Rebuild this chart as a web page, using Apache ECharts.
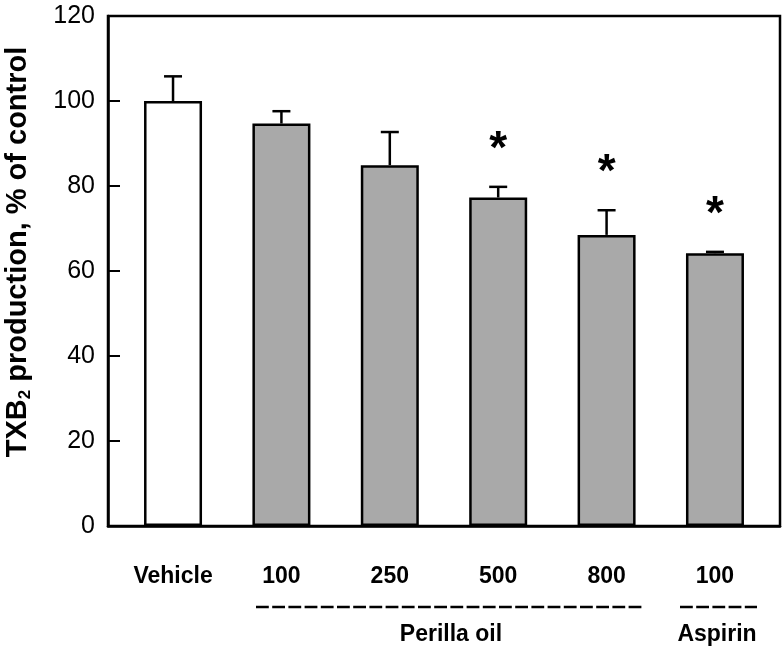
<!DOCTYPE html>
<html>
<head>
<meta charset="utf-8">
<script src="https://cdn.jsdelivr.net/npm/echarts@6/dist/echarts.min.js"></script>
<style>
html,body{margin:0;padding:0;background:#fff;}
#chart{width:784px;height:652px;}
</style>
</head>
<body>
<div id="chart"></div>
<script>
// ---- data ----
var categories = ['Vehicle', '100', '250', '500', '800', '100'];
var values = [100, 94.7, 84.9, 77.3, 68.5, 64.2];
var errors = [5.8, 2.9, 7.8, 2.5, 5.8, 0.3];
var significant = [false, false, false, true, true, true];
var groupNames = ['Perilla oil', 'Aspirin'];

var FONT = 'Liberation Sans, Arial, sans-serif';
var GRAY = '#a9a9a9';

var barData = values.map(function (v, i) {
  return { value: [i, v], itemStyle: { color: i === 0 ? '#ffffff' : GRAY } };
});
var errData = values.map(function (v, i) { return [i, v, errors[i]]; });
var starData = [];
values.forEach(function (v, i) { if (significant[i]) starData.push([i, v + errors[i]]); });

var chart = echarts.init(document.getElementById('chart'), null, { renderer: 'canvas' });
var option = {
  animation: false,
  backgroundColor: '#ffffff',
  grid: {
    left: 108, right: 4, top: 16, bottom: 126,
    outerBoundsMode: 'none', containLabel: false,
    show: true, borderColor: '#000', borderWidth: 2.5, backgroundColor: 'transparent'
  },
  xAxis: {
    type: 'value',
    min: -0.6, max: 5.6,
    splitLine: { show: false },
    axisLine: { show: true, onZero: false, lineStyle: { color: '#000', width: 2.5 } },
    axisTick: { show: false },
    axisLabel: {
      customValues: [0, 1, 2, 3, 4, 5],
      formatter: function (v) { return categories[Math.round(v)]; },
      fontFamily: FONT, fontSize: 23, fontWeight: 'bold', color: '#000', margin: 39
    }
  },
  yAxis: {
    type: 'value',
    min: 0, max: 120, interval: 20,
    splitLine: { show: false },
    axisLine: { show: true, onZero: false, lineStyle: { color: '#000', width: 2.5 } },
    axisTick: { show: true, inside: true, length: 12, lineStyle: { color: '#000', width: 2 } },
    axisLabel: { fontFamily: FONT, fontSize: 25, color: '#000', margin: 13 },
    name: '{b|TXB}{s|2}{b| production, % of control}',
    nameLocation: 'middle',
    nameRotate: 90,
    nameGap: 74,
    nameTextStyle: {
      padding: [0, 0, 0, 38],
      rich: {
        b: { fontFamily: FONT, fontSize: 29, fontWeight: 'bold', color: '#000', lineHeight: 33 },
        s: { fontFamily: FONT, fontSize: 17, fontWeight: 'bold', color: '#000', lineHeight: 33, verticalAlign: 'bottom', padding: [9, 0, 0, 0] }
      }
    }
  },
  series: [
    {
      type: 'bar',
      data: barData,
      barWidth: 58,
      itemStyle: { borderColor: '#000', borderWidth: 2.5 },
      z: 2
    },
    {
      type: 'custom',
      data: errData,
      z: 3,
      renderItem: function (params, api) {
        var x = api.value(0), v = api.value(1), e = api.value(2);
        var p0 = api.coord([x, v]);
        var p1 = api.coord([x, v + e]);
        var style = { stroke: '#000', lineWidth: 2.5 };
        return {
          type: 'group',
          children: [
            { type: 'line', shape: { x1: p0[0], y1: p0[1], x2: p1[0], y2: p1[1] }, style: style },
            { type: 'line', shape: { x1: p1[0] - 9, y1: p1[1], x2: p1[0] + 9, y2: p1[1] }, style: style }
          ]
        };
      }
    },
    {
      type: 'custom',
      data: starData,
      z: 3,
      renderItem: function (params, api) {
        var p = api.coord([api.value(0), api.value(1)]);
        return {
          type: 'text',
          x: p[0], y: p[1] - 37,
          style: {
            text: '*', fill: '#000',
            font: 'bold 46px ' + FONT,
            align: 'center', verticalAlign: 'middle'
          }
        };
      }
    }
  ],
  graphic: [
    { type: 'line', shape: { x1: 256, y1: 607, x2: 643, y2: 607 },
      style: { stroke: '#000', lineWidth: 2.7, lineDash: [12.8, 3.4] } },
    { type: 'line', shape: { x1: 680, y1: 607, x2: 757, y2: 607 },
      style: { stroke: '#000', lineWidth: 2.7, lineDash: [12.8, 3.4] } },
    { type: 'text', x: 451, y: 635,
      style: { text: groupNames[0], font: 'bold 23px ' + FONT, fill: '#000', align: 'center', verticalAlign: 'middle' } },
    { type: 'text', x: 717, y: 635,
      style: { text: groupNames[1], font: 'bold 23px ' + FONT, fill: '#000', align: 'center', verticalAlign: 'middle' } }
  ]
};
chart.setOption(option);
</script>
</body>
</html>
